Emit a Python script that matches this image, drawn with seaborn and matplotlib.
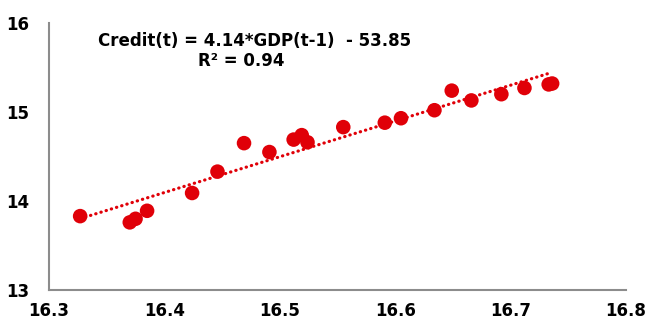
import matplotlib
matplotlib.use("Agg")
import matplotlib.pyplot as plt
import seaborn as sns
import pandas as pd

gdp_lag = [16.327, 16.370, 16.375, 16.385, 16.424, 16.446, 16.469, 16.491,
           16.512, 16.519, 16.524, 16.555, 16.591, 16.605, 16.634, 16.649,
           16.666, 16.692, 16.712, 16.733, 16.736]
credit = [13.83, 13.76, 13.80, 13.89, 14.09, 14.33, 14.65, 14.55,
          14.69, 14.74, 14.66, 14.83, 14.88, 14.93, 15.02, 15.24,
          15.13, 15.20, 15.27, 15.31, 15.32]
x_ticks = [16.3, 16.4, 16.5, 16.6, 16.7, 16.8]
y_ticks = [13, 14, 15, 16]
equation = "Credit(t) = 4.14*GDP(t-1)  - 53.85"
r2_label = "R² = 0.94"

df = pd.DataFrame({"gdp": gdp_lag, "credit": credit})

sns.set_style("white")
plt.rcParams["font.family"] = ["DejaVu Sans"]
plt.rcParams["font.weight"] = "bold"

red = "#E00008"
W, H = 647, 322
fig = plt.figure(figsize=(W / 100, H / 100), dpi=100)
ax = fig.add_axes([49 / W, 1 - 290 / H, (626 - 49) / W, (290 - 23) / H])

sns.regplot(data=df, x="gdp", y="credit", ax=ax, ci=None,
            scatter_kws=dict(s=110, color=red, edgecolor="none", alpha=1, zorder=3),
            line_kws=dict(color=red, lw=2.3, linestyle=(0, (0.1, 1.6)),
                          dash_capstyle="round", zorder=2))

ax.set_xlim(16.3, 16.8)
ax.set_ylim(13, 16)
ax.set_xticks(x_ticks)
ax.set_yticks(y_ticks)
ax.set_xticklabels([f"{t:.1f}" for t in x_ticks])
ax.set_yticklabels([f"{t}" for t in y_ticks])
ax.set_xlabel("")
ax.set_ylabel("")

for s in ["top", "right"]:
    ax.spines[s].set_visible(False)
for s in ["left", "bottom"]:
    ax.spines[s].set_color("#8c8c8c")
    ax.spines[s].set_linewidth(1.5)
ax.tick_params(axis="both", which="major", direction="out", length=4, width=1.5,
               color="#8c8c8c", labelsize=12, labelcolor="black")
ax.tick_params(axis="x", pad=5)
ax.tick_params(axis="y", pad=10)
for lab in ax.get_xticklabels() + ax.get_yticklabels():
    lab.set_fontweight("bold")

fig.text(255 / W, 1 - 41 / H, equation, ha="center", va="center",
         fontsize=12, fontweight="bold", color="black")
fig.text(241 / W, 1 - 61 / H, r2_label, ha="center", va="center",
         fontsize=12, fontweight="bold", color="black")

fig.savefig("out.png", dpi=100)
